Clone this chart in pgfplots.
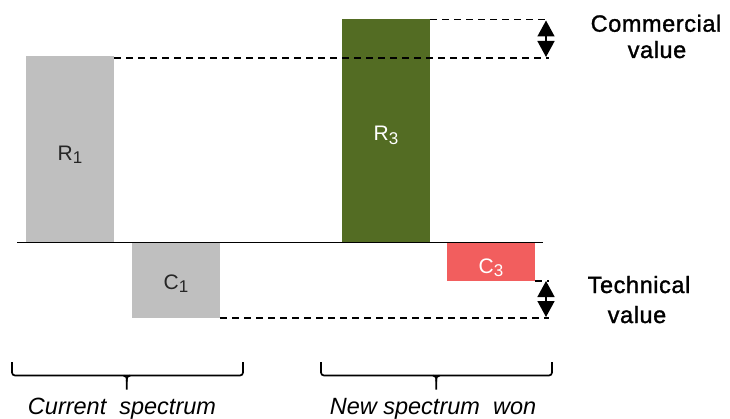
\documentclass[border=0pt]{standalone}
\usepackage{pgfplots}
\pgfplotsset{compat=1.18}
\usetikzlibrary{arrows.meta}
\usepackage{fontspec}
\setmainfont{Liberation Sans}
\newfontfamily\spaced[LetterSpace=2.5, FakeBold=1.3]{Liberation Sans}
\newfontfamily\plainsans{Liberation Sans}

\definecolor{barGray}{RGB}{191,191,191}
\definecolor{barGreen}{RGB}{83,108,35}
\definecolor{barRed}{RGB}{242,94,94}

% label with a large, lowered index
\newcommand{\lab}[2]{#1\raisebox{-0.3ex}{\fontsize{17}{20}\selectfont #2}}

\begin{document}
\begin{tikzpicture}
\begin{axis}[
  scale only axis,
  width=730pt, height=418pt,
  xmin=0, xmax=730,
  ymin=-175.5, ymax=242.5,
  hide axis,
  clip=false,
]
% revenue and cost bars, current vs. new spectrum
\addplot[ybar, bar width=88, bar shift=0pt, fill=barGray, draw=none] coordinates {(70,186.5)};
\addplot[ybar, bar width=88, bar shift=0pt, fill=barGray, draw=none] coordinates {(176,-75.5)};
\addplot[ybar, bar width=88, bar shift=0pt, fill=barGreen, draw=none] coordinates {(386,223.5)};
\addplot[ybar, bar width=88, bar shift=0pt, fill=barRed, draw=none] coordinates {(491,-38.5)};

% zero line
\draw[line width=1.8pt] (axis cs:17,0) -- (axis cs:543,0);

% bar labels
\tikzset{barlab/.style={font=\plainsans\fontsize{21}{24}\selectfont}}
\node[barlab, text=black!85] at (axis cs:70,88) {\lab{R}{1}};
\node[barlab, text=black!85] at (axis cs:176,-41) {\lab{C}{1}};
\node[barlab, text=white] at (axis cs:386,107) {\lab{R}{3}};
\node[barlab, text=white] at (axis cs:491,-25) {\lab{C}{3}};

% reference levels
\begin{scope}[line width=1.7pt, dash pattern=on 7pt off 5pt]
  \draw (axis cs:114,184.5) -- (axis cs:549,184.5);
  \draw (axis cs:430,223) -- (axis cs:549,223);
  \draw (axis cs:220,-75.5) -- (axis cs:549,-75.5);
  \draw (axis cs:535,-38.5) -- (axis cs:549,-38.5);
\end{scope}

% value differences
\begin{scope}[line width=1.5pt, -{Triangle[width=17pt,length=16pt]}, shorten >=0.5pt]
  \draw (axis cs:546,203.75) -- (axis cs:546,222.5);
  \draw (axis cs:546,203.75) -- (axis cs:546,185);
  \draw (axis cs:546,-56.5) -- (axis cs:546,-38);
  \draw (axis cs:546,-56.5) -- (axis cs:546,-75);
\end{scope}

% annotations
\tikzset{ann/.style={font=\spaced\fontsize{23.5}{28}\selectfont, anchor=base}}
\node[ann] at (axis cs:656,210.8) {Commercial};
\node[ann] at (axis cs:657,184.5) {value};
\node[ann] at (axis cs:639,-50.5) {Technical};
\node[ann] at (axis cs:637,-80.5) {value};

% group braces
\begin{scope}[line width=1.7pt]
  \draw[rounded corners=3pt] (axis cs:12,-119.5) -- (axis cs:12,-133) -- (axis cs:243,-133) -- (axis cs:243,-119.5);
  \draw[rounded corners=3pt] (axis cs:321,-119.5) -- (axis cs:321,-133) -- (axis cs:552,-133) -- (axis cs:552,-119.5);
  \draw (axis cs:123.5,-133) .. controls (axis cs:126.5,-133) and (axis cs:126.8,-135) .. (axis cs:126.8,-139) -- (axis cs:126.8,-147);
  \draw (axis cs:130.1,-133) .. controls (axis cs:127.1,-133) and (axis cs:126.8,-135) .. (axis cs:126.8,-139);
  \draw (axis cs:433,-133) .. controls (axis cs:436,-133) and (axis cs:436.3,-135) .. (axis cs:436.3,-139) -- (axis cs:436.3,-147);
  \draw (axis cs:439.6,-133) .. controls (axis cs:436.6,-133) and (axis cs:436.3,-135) .. (axis cs:436.3,-139);
\end{scope}
\tikzset{grp/.style={font=\plainsans\fontsize{23.5}{28}\selectfont\itshape, anchor=base}}
\node[grp] at (axis cs:122,-171.5) {Current\ \ spectrum};
\node[grp] at (axis cs:433,-171.5) {New spectrum\ \ won};
\end{axis}
\pgfresetboundingbox
\useasboundingbox (0,0) rectangle (730pt,418pt);
\end{tikzpicture}
\end{document}
